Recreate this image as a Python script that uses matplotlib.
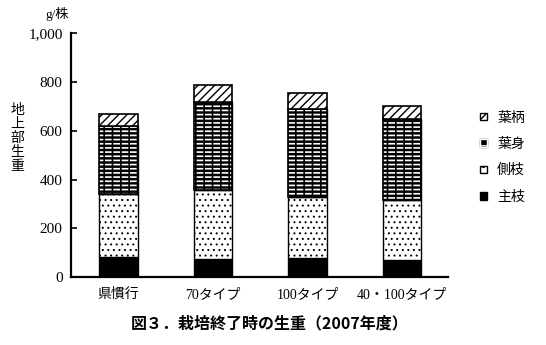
import matplotlib
matplotlib.use("Agg")
import matplotlib.pyplot as plt
import numpy as np
from matplotlib.patches import Patch
from matplotlib.legend_handler import HandlerTuple

plt.rcParams['font.family'] = ['Noto Sans CJK JP', 'DejaVu Sans']
plt.rcParams['hatch.linewidth'] = 1.0

categories = ['県慣行', '70タイプ', '100タイプ', '40・100タイプ']
main_stem = [83, 74, 77, 70]      # 主枝
side_branch = [257, 283, 253, 246]  # 側枝
leaf_blade = [280, 363, 359, 332]   # 葉身
petiole = [48, 69, 68, 55]          # 葉柄
yticks = [0, 200, 400, 600, 800, 1000]
yticklabels = ['0', '200', '400', '600', '800', '1,000']

serif_cjk = ['Liberation Serif', 'Noto Sans CJK JP']

fig = plt.figure(figsize=(5.46, 3.45), dpi=100)
ax = fig.add_axes([0.130, 0.197, 0.6905, 0.706])

x = np.arange(len(categories))
w = 0.41
b0 = np.zeros(len(x))
ax.bar(x, main_stem, w, bottom=b0, color='black', edgecolor='black', linewidth=1)
b1 = b0 + np.array(main_stem)
with plt.rc_context({'hatch.linewidth': 0.7}):
    ax.bar(x, side_branch, w, bottom=b1, color='white', edgecolor='black', hatch='...', linewidth=0)
ax.bar(x, side_branch, w, bottom=b1, fill=False, edgecolor='black', linewidth=1)
b2 = b1 + np.array(side_branch)
ax.bar(x, leaf_blade, w, bottom=b2, color='black', edgecolor='black', linewidth=1)
with plt.rc_context({'hatch.linewidth': 1.2}):
    ax.bar(x, leaf_blade, w, bottom=b2, fill=False, edgecolor='white', hatch='----', linewidth=0)
with plt.rc_context({'hatch.linewidth': 1.2}):
    ax.bar(x, leaf_blade, w, bottom=b2, fill=False, edgecolor='black', hatch='||', linewidth=0)
ax.bar(x, leaf_blade, w, bottom=b2, fill=False, edgecolor='black', linewidth=1.2)
b3 = b2 + np.array(leaf_blade)
ax.bar(x, petiole, w, bottom=b3, color='white', edgecolor='black', hatch='////', linewidth=1.2)

ax.set_xlim(-0.503, 3.487)
ax.set_ylim(0, 1000)
ax.set_yticks(yticks)
ax.set_yticklabels(yticklabels, fontsize=11)
for lbl in ax.get_yticklabels():
    lbl.set_fontfamily(['Liberation Serif'])
ax.set_xticks(x)
ax.set_xticklabels(categories, fontsize=10)
for lbl in ax.get_xticklabels():
    lbl.set_fontfamily(serif_cjk)
ax.tick_params(axis='y', direction='in', length=4, width=1.2, pad=6)
ax.tick_params(axis='x', length=0, pad=8)
for s in ['top', 'right']:
    ax.spines[s].set_visible(False)
ax.spines['left'].set_linewidth(1.6)
ax.spines['bottom'].set_linewidth(1.6)

fig.text(57/546, 1 - 14/345, 'g/株', ha='center', va='center', fontsize=9.5, family=serif_cjk)
fig.text(17/546, 1 - 138/345, '地\n上\n部\n生\n重', ha='center', va='center', fontsize=10, linespacing=1.0)

h_pet = Patch(facecolor='white', edgecolor='black', hatch='////')
h_leaf = (Patch(facecolor='black', edgecolor='black'), Patch(facecolor='none', edgecolor='white', hatch='--'))
h_side = Patch(facecolor='white', edgecolor='black', hatch='..')
h_main = Patch(facecolor='black', edgecolor='black')
ax.legend([h_pet, h_leaf, h_side, h_main], ['葉柄', '葉身', '側枝', '主枝'],
          handler_map={tuple: HandlerTuple(ndivide=1)},
          loc='center left', bbox_to_anchor=(1.086, 0.492), frameon=False,
          fontsize=10, handlelength=0.5, handleheight=0.5, handletextpad=0.7,
          labelspacing=0.9, borderpad=0, borderaxespad=0)

fig.text(270/546, 1 - 323/345, '図３．栽培終了時の生重（2007年度）', ha='center', va='center',
         fontsize=11.5, fontweight='bold')

fig.savefig('out.png', dpi=100)
